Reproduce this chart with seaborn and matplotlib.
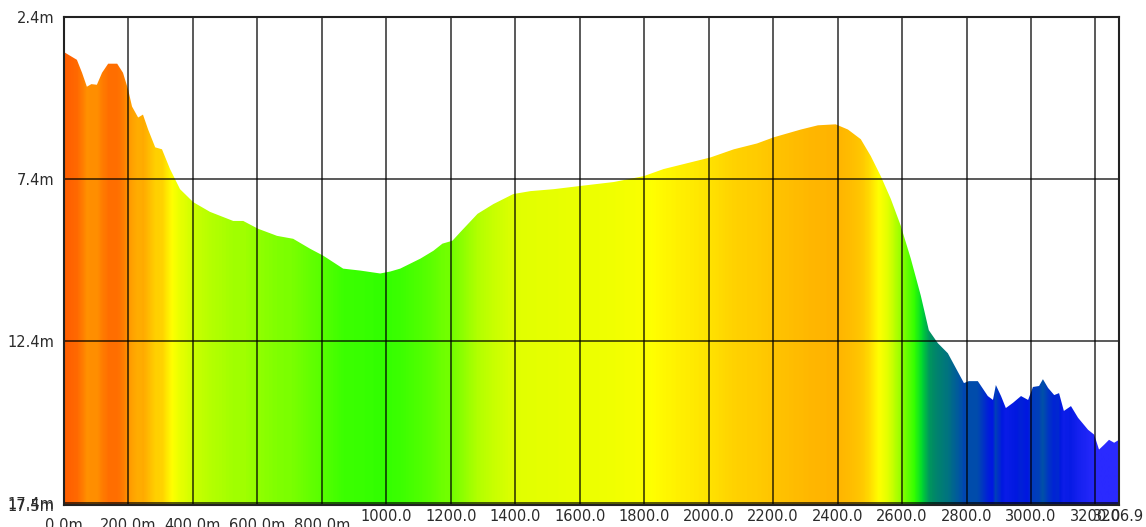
import numpy as np
import matplotlib
matplotlib.use('Agg')
import matplotlib.pyplot as plt
import seaborn as sns

# depth profile (distance in m, depth in m)
dist = [0, 3, 40, 56, 71, 85, 102, 118, 137, 165, 183, 199, 211, 230, 245, 261,
        283, 304, 329, 360, 401, 453, 525, 556, 602, 661, 711, 764, 804, 866,
        919, 981, 1012, 1043, 1106, 1146, 1174, 1205, 1230, 1283, 1332, 1394,
        1447, 1519, 1602, 1705, 1798, 1860, 2006, 2078, 2150, 2202, 2286, 2339,
        2394, 2432, 2472, 2503, 2534, 2565, 2596, 2627, 2658, 2683, 2711, 2742,
        2767, 2792, 2807, 2835, 2866, 2882, 2891, 2907, 2922, 2944, 2969, 2991,
        3006, 3025, 3037, 3053, 3072, 3087, 3102, 3124, 3146, 3177, 3196, 3211,
        3227, 3242, 3258, 3273]
depth = [3.47, 3.50, 3.72, 4.12, 4.55, 4.47, 4.49, 4.12, 3.84, 3.84, 4.12, 4.64,
         5.16, 5.50, 5.41, 5.87, 6.42, 6.48, 7.09, 7.71, 8.11, 8.41, 8.69, 8.69,
         8.93, 9.15, 9.24, 9.55, 9.76, 10.16, 10.22, 10.31, 10.25, 10.16, 9.85,
         9.61, 9.39, 9.30, 9.03, 8.47, 8.17, 7.86, 7.77, 7.71, 7.61, 7.49, 7.31,
         7.09, 6.73, 6.48, 6.30, 6.11, 5.87, 5.74, 5.71, 5.87, 6.17, 6.69, 7.31,
         8.01, 8.84, 9.85, 10.99, 12.06, 12.46, 12.77, 13.23, 13.69, 13.63, 13.63,
         14.09, 14.21, 13.75, 14.09, 14.46, 14.30, 14.09, 14.21, 13.81, 13.78,
         13.57, 13.84, 14.06, 14.00, 14.55, 14.40, 14.76, 15.13, 15.28, 15.74,
         15.59, 15.44, 15.53, 15.44]

x_ticks = [0, 200, 400, 600, 800, 1000, 1200, 1400, 1600, 1800, 2000, 2200,
           2400, 2600, 2800, 3000, 3200, dist[-1]]
x_labels = ['0.0m', '200.0m', '400.0m', '600.0m', '800.0m', '1000.0', '1200.0',
            '1400.0', '1600.0', '1800.0', '2000.0', '2200.0', '2400.0', '2600.0',
            '2800.0', '3000.0', '3200.0', '3206.9']
y_ticks = [2.4, 7.4, 12.4, 17.4, 17.45]
y_labels = ['2.4m', '7.4m', '12.4m', '17.4m', '17.5m']

# colour ramp by depth
depth_stops = [3.5, 4.5, 5.7, 6.5, 7.2, 7.8, 8.6, 9.5, 10.3, 11.2, 12.3, 13.6, 14.2, 15.5]
stop_colors = ['#ff6000', '#ff9000', '#ffb400', '#ffd400', '#ffff00', '#e2ff00',
               '#a8ff00', '#66ff00', '#33ff00', '#00d830', '#008a66', '#0050a8',
               '#0018e0', '#2a2aff']

sns.set_theme(style='white')
plt.rcParams['font.family'] = ['DejaVu Sans']
cmap = sns.blend_palette(stop_colors, n_colors=256, as_cmap=True)

fig = plt.figure(figsize=(11.46, 5.27), dpi=100)
ax = fig.add_axes([64 / 1146, 1 - 505 / 527, (1119 - 64) / 1146, (505 - 17) / 527])

y_bottom = 17.45
poly = ax.fill_between(dist, depth, y_bottom, facecolor='none', edgecolor='none')

# gradient texture clipped to the profile
cols = np.linspace(0, dist[-1], 1200)
col_depth = np.interp(cols, dist, depth)
pos = np.interp(col_depth, depth_stops, np.linspace(0, 1, len(depth_stops)))
img = cmap(pos)[np.newaxis, :, :]
im = ax.imshow(img, extent=[0, dist[-1], y_bottom, 2.4], aspect='auto',
               interpolation='bilinear', zorder=1)
im.set_clip_path(poly.get_paths()[0], transform=ax.transData)

ax.set_xlim(0, dist[-1])
ax.set_ylim(y_bottom, 2.4)
ax.set_xticks(x_ticks)
ax.set_xticklabels(x_labels)
ax.set_yticks(y_ticks)
ax.set_yticklabels(y_labels)
ax.tick_params(length=0, labelsize=10.5, labelcolor='#2b2b2b')
ax.tick_params(axis='x', pad=3)
ax.tick_params(axis='y', pad=7)
for lab in ax.get_xticklabels()[:5]:
    lab.set_y(-0.019)

ax.set_axisbelow(False)
ax.grid(True, color='black', alpha=0.7, lw=1.3, zorder=3)
for s in ax.spines.values():
    s.set_color('#222222')
    s.set_linewidth(1.5)
    s.set_zorder(4)

fig.savefig('out.png', dpi=100)
